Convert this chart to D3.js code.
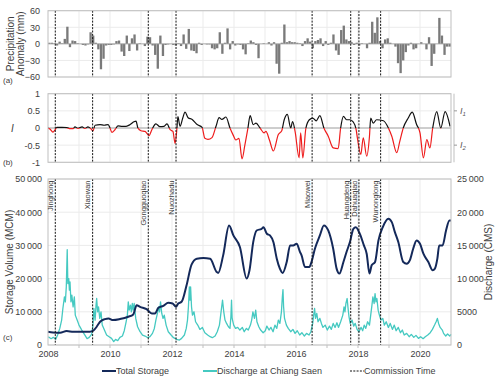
<!DOCTYPE html>
<html><head><meta charset="utf-8">
<script src="https://cdn.jsdelivr.net/npm/d3@7"></script>
<style>
body{margin:0;background:#fff}
svg{display:block}
text{font-family:"Liberation Sans",Arial,sans-serif;fill:#404040}
</style>
</head><body>
<svg id="chart" width="500" height="381"></svg>
<script>
// ---------------- DATA ----------------
const xTickYears = [2008, 2010, 2012, 2014, 2016, 2018, 2020];
const precipTicks = [-60, -30, 0, 30, 60];
const indexTicks = [-1, -0.5, 0, 0.5, 1];
const storageTicks = [0, 10000, 20000, 30000, 40000, 50000];
const dischargeTicks = [0, 5000, 10000, 15000, 20000, 25000];

// monthly precipitation anomaly (mm), Jan 2008 .. Dec 2020
const precipAnomaly = [
  2, 2, 1, -3, 4, 1, 9, 31, -6, 6, 5, 1,
  0, -2, -3, -1, 21, 15, 2, -10, -46, -27, -3, -2,
  -2, -1, 5, 6, -14, -22, 15, -13, 10, 17, -12, 1,
  0, -4, 13, 12, -3, -20, -45, 15, -22, -2, -1, 0,
  -2, -3, 1, -4, 17, -9, 27, -12, -13, -17, 2, -2,
  0, -1, -1, -8, -10, -8, 21, -18, 2, 28, -10, 5,
  -3, -1, -2, -10, -19, 1, 6, 3, -2, -26, 0, 1,
  0, 3, -3, 3, -36, -54, 2, 35, 3, 5, 3, 3,
  2, 1, -4, 5, 10, 4, -8, 5, 7, 10, -4, 5,
  -2, 2, 17, -12, -20, 25, 33, 8, 5, 3, -2, 2,
  -3, 1, 0, -8, 2, 40, 20, 48, 5, -8, 8, 10,
  2, 0, -5, -35, -53, -30, -15, -3, 2, -10, -8, 0,
  3, 0, -10, 12, -40, -18, 0, 47, 15, -20, -5, -5
];

const damNames = ["Jinghong", "Xiaowan", "Gongguoqiao", "Nuozhadu", "Miaowei", "Huangdeng", "Dahuaqiao", "Wunonglong"];
const damTimes = [2008.235, 2009.44, 2011.235, 2012.13, 2016.52, 2017.765, 2018.03, 2018.73];

// index I : [decimal year, value]
const indexSeries = [
  [2008.00,0],[2008.06,-0.03],[2008.16,-0.12],[2008.23,-0.05],[2008.29,0.02],[2008.45,0.02],[2008.61,0.01],
  [2008.71,-0.02],[2008.81,-0.02],[2008.87,0.03],[2008.97,-0.01],[2009.10,0.03],[2009.19,-0.01],[2009.29,0.03],
  [2009.39,-0.03],[2009.45,-0.08],[2009.52,0.08],[2009.68,0.1],[2009.81,0.08],[2009.94,0.1],[2010.00,0.0],
  [2010.06,-0.13],[2010.16,-0.05],[2010.26,0.06],[2010.39,0.05],[2010.52,0.05],[2010.65,0.1],[2010.77,0.18],
  [2010.84,0.2],[2010.90,0.0],[2011.00,-0.08],[2011.13,-0.1],[2011.26,-0.22],[2011.35,-0.05],[2011.48,0.12],
  [2011.61,0.04],[2011.74,0.05],[2011.84,0.12],[2011.94,-0.05],[2012.03,-0.1],[2012.10,-0.45],[2012.16,0.0],
  [2012.19,0.33],[2012.26,0.05],[2012.35,0.3],[2012.42,0.46],[2012.52,0.3],[2012.65,0.25],[2012.81,0.1],
  [2012.97,0.02],[2013.06,-0.3],[2013.16,-0.33],[2013.29,-0.28],[2013.42,0.05],[2013.52,0.3],[2013.61,0.25],
  [2013.74,0.32],[2013.87,0.0],[2013.97,-0.2],[2014.06,-0.35],[2014.16,-0.3],[2014.26,-0.9],[2014.35,-0.5],
  [2014.45,0.0],[2014.52,0.36],[2014.62,0.1],[2014.71,0.14],[2014.84,0],[2014.97,-0.14],[2015.03,-0.1],
  [2015.14,-0.34],[2015.27,-0.67],[2015.43,-0.19],[2015.54,-0.08],[2015.62,0.24],[2015.72,0.4],[2015.83,0],
  [2015.89,0.19],[2015.97,-0.1],[2016.10,-0.87],[2016.15,-0.14],[2016.22,-0.87],[2016.32,0],[2016.43,0.24],
  [2016.54,0.29],[2016.65,0.21],[2016.77,0.36],[2016.90,0],[2017.04,-0.24],[2017.20,-0.58],[2017.36,-0.6],
  [2017.44,0],[2017.53,0.34],[2017.63,0.24],[2017.74,0.24],[2017.85,0.17],[2017.94,-0.05],[2017.98,-0.29],
  [2018.09,-0.77],[2018.17,-0.29],[2018.28,-0.82],[2018.37,-0.24],[2018.41,0.29],[2018.49,0.14],[2018.60,0.24],
  [2018.82,0.21],[2018.98,0],[2019.09,-0.24],[2019.25,-0.72],[2019.35,-0.38],[2019.46,0],[2019.62,0.29],
  [2019.75,0.46],[2019.89,0.1],[2020.00,-0.14],[2020.11,-0.87],[2020.22,-0.34],[2020.32,-0.58],[2020.41,0],
  [2020.54,0.48],[2020.67,0],[2020.81,0.48],[2020.97,0.05]
];

// total storage (MCM): [decimal year, value]
const storageSeries = [
  [2008.00,4000],[2008.16,3800],[2008.39,3700],[2008.60,4200],[2008.82,4000],[2009.14,4000],[2009.35,4000],
  [2009.46,4300],[2009.57,5500],[2009.68,7000],[2009.84,7800],[2009.95,8000],[2010.10,7500],[2010.32,7800],
  [2010.59,8500],[2010.75,9200],[2010.86,12000],[2010.97,11500],[2011.18,10800],[2011.35,9500],[2011.45,9500],
  [2011.56,11200],[2011.72,11800],[2011.88,12700],[2012.02,12500],[2012.13,11500],[2012.20,12500],[2012.31,13000],
  [2012.47,18000],[2012.63,24200],[2012.80,26000],[2013.01,26200],[2013.23,26000],[2013.44,22000],[2013.49,21700],
  [2013.65,27000],[2013.84,36000],[2013.98,33000],[2014.19,29500],[2014.41,20000],[2014.50,22500],
  [2014.62,31000],[2014.73,34500],[2014.89,35000],[2014.95,35500],[2015.06,33500],[2015.16,33000],[2015.27,31000],
  [2015.38,26000],[2015.48,23000],[2015.57,21700],[2015.70,25000],[2015.81,30000],[2015.91,30000],[2016.02,30500],
  [2016.13,28000],[2016.18,27000],[2016.29,23500],[2016.43,23500],[2016.50,25000],[2016.61,29000],[2016.77,33000],
  [2016.90,36000],[2017.04,34500],[2017.20,29000],[2017.31,23000],[2017.40,21500],[2017.53,25000],[2017.63,28000],
  [2017.74,31000],[2017.85,35000],[2017.93,35500],[2018.06,33500],[2018.19,30000],[2018.28,27500],[2018.37,21500],
  [2018.44,24000],[2018.55,25000],[2018.66,31500],[2018.80,35500],[2018.98,38000],[2019.09,37000],[2019.19,34000],
  [2019.30,31000],[2019.46,25000],[2019.57,24500],[2019.67,25500],[2019.78,29000],[2019.89,31500],[2020.00,30500],
  [2020.11,27500],[2020.27,25000],[2020.41,22500],[2020.48,23000],[2020.56,26000],[2020.62,30000],[2020.73,30000],
  [2020.84,34500],[2020.95,37500],[2021.00,37500]
];

// discharge at Chiang Saen (CMS): [decimal year, value]
const dischargeSeries = [
  [2008.01,1250],[2008.10,950],[2008.17,1150],[2008.25,850],[2008.31,1500],[2008.38,2500],[2008.44,3750],
  [2008.48,5500],[2008.53,7250],[2008.56,6500],[2008.59,8750],[2008.62,14350],[2008.64,9250],[2008.67,10000],
  [2008.69,8250],[2008.71,9500],[2008.74,6500],[2008.77,7500],[2008.81,5750],[2008.85,7250],[2008.88,4500],
  [2008.94,3750],[2009.00,3000],[2009.09,2250],[2009.17,1650],[2009.26,950],[2009.33,1150],[2009.41,1650],
  [2009.45,3000],[2009.48,5500],[2009.52,3750],[2009.55,6000],[2009.57,7000],[2009.60,5000],[2009.63,5750],
  [2009.67,4000],[2009.71,5000],[2009.75,3000],[2009.82,2250],[2009.89,1500],[2009.97,1250],[2010.05,1000],
  [2010.12,500],[2010.18,850],[2010.25,650],[2010.32,1150],[2010.40,1350],[2010.46,2150],[2010.52,3500],
  [2010.56,4500],[2010.59,6500],[2010.62,5250],[2010.66,6000],[2010.69,5000],[2010.72,6250],[2010.75,5250],
  [2010.78,6250],[2010.83,4000],[2010.89,2750],[2010.97,2000],[2011.05,1500],[2011.13,1350],[2011.22,1100],
  [2011.29,1250],[2011.37,1750],[2011.43,2500],[2011.48,3750],[2011.53,4750],[2011.57,5750],[2011.60,5000],
  [2011.63,6500],[2011.67,4750],[2011.71,4000],[2011.75,4500],[2011.81,3000],[2011.88,2000],[2011.97,1500],
  [2012.05,1100],[2012.15,850],[2012.24,750],[2012.31,1000],[2012.40,1500],[2012.46,2500],[2012.50,3750],
  [2012.53,5750],[2012.56,8750],[2012.58,6750],[2012.60,8750],[2012.63,5750],[2012.66,4500],[2012.71,5000],
  [2012.76,3500],[2012.83,3000],[2012.90,2350],[2012.98,2650],[2013.06,1850],[2013.15,1500],[2013.23,1250],
  [2013.30,1100],[2013.39,1350],[2013.46,2000],[2013.53,3000],[2013.57,4500],[2013.61,6000],[2013.63,6750],
  [2013.67,5000],[2013.71,3750],[2013.76,3250],[2013.82,2750],[2013.87,2500],[2013.90,4250],[2013.92,6750],
  [2013.94,4000],[2013.99,3000],[2014.05,2500],[2014.12,2650],[2014.19,2250],[2014.27,2650],[2014.33,2000],
  [2014.40,2500],[2014.46,2250],[2014.53,3000],[2014.57,3750],[2014.61,5000],[2014.66,4000],[2014.70,5250],
  [2014.74,3500],[2014.80,2750],[2014.86,2250],[2014.94,1850],[2015.01,2150],[2015.06,2850],[2015.13,2250],
  [2015.19,2650],[2015.26,2000],[2015.32,3000],[2015.38,2500],[2015.43,3750],[2015.48,3250],[2015.53,5000],
  [2015.56,7250],[2015.58,8350],[2015.60,5750],[2015.63,4000],[2015.69,3000],[2015.75,2500],[2015.83,2000],
  [2015.90,2350],[2015.97,1750],[2016.04,2150],[2016.12,1500],[2016.19,1850],[2016.27,1350],[2016.34,1750],
  [2016.42,1500],[2016.48,2000],[2016.54,3250],[2016.57,4500],[2016.60,5500],[2016.63,4000],[2016.67,4750],
  [2016.71,3500],[2016.77,4000],[2016.82,3250],[2016.87,2650],[2016.94,3000],[2017.01,2250],[2017.08,2850],
  [2017.14,2350],[2017.20,3250],[2017.26,2650],[2017.32,3350],[2017.37,2650],[2017.44,3500],[2017.51,4500],
  [2017.55,5750],[2017.58,5000],[2017.61,6250],[2017.65,7000],[2017.68,5500],[2017.71,4250],[2017.75,3250],
  [2017.81,3750],[2017.86,2850],[2017.91,3250],[2017.97,2350],[2018.03,2000],[2018.10,2650],[2018.15,2150],
  [2018.20,3000],[2018.25,2500],[2018.31,3500],[2018.37,3000],[2018.41,4500],[2018.45,6000],[2018.48,7250],
  [2018.52,6250],[2018.55,7750],[2018.58,6500],[2018.61,7000],[2018.65,5250],[2018.69,4500],[2018.74,3750],
  [2018.80,4000],[2018.85,3000],[2018.91,3500],[2018.98,2650],[2019.04,3250],[2019.11,2350],[2019.17,3000],
  [2019.23,2150],[2019.30,2650],[2019.37,1850],[2019.43,2250],[2019.49,1500],[2019.57,1750],[2019.65,1250],
  [2019.72,1600],[2019.80,1150],[2019.87,1450],[2019.95,1000],[2020.02,1250],[2020.10,950],[2020.17,1250],
  [2020.25,1500],[2020.33,1850],[2020.40,2350],[2020.47,3000],[2020.52,3500],[2020.56,4000],[2020.60,3250],
  [2020.65,2650],[2020.72,2250],[2020.76,1750],[2020.83,1350],[2020.89,1650],[2020.96,1350],[2021.00,1600]
];

// ---------------- CHART ----------------
const svg = d3.select("#chart");
const L = 48, R = 451;
const x = d3.scaleLinear().domain([2008, 2021]).range([L, R]);
const gridYears = d3.range(2009, 2021);
const storageColor = "#14295a", dischargeColor = "#45c9c1", gridColor = "#ebebeb", frameColor = "#bfbfbf";
const fmtThousands = d => d >= 10000 ? d3.format(",")(d).replace(/,/g, "\u2009") : String(d);

const yA = d3.scaleLinear().domain([-60, 60]).range([77, 10.7]);
const yB = d3.scaleLinear().domain([-1, 1]).range([162.3, 93.7]);
const yC = d3.scaleLinear().domain([0, 50000]).range([345, 179]);
const yC2 = d3.scaleLinear().domain([0, 25000]).range([345, 179]);

function grid(y, ticks) {
  const [b, t] = y.range();
  const g = svg.append("g");
  g.selectAll("line.v").data(gridYears).join("line").attr("class", "v")
    .attr("x1", d => x(d)).attr("x2", d => x(d)).attr("y1", t).attr("y2", b)
    .attr("stroke", gridColor).attr("stroke-width", 1);
  g.selectAll("line.h").data(ticks).join("line").attr("class", "h")
    .attr("x1", L).attr("x2", R).attr("y1", d => y(d)).attr("y2", d => y(d))
    .attr("stroke", gridColor).attr("stroke-width", 1);
}
function frame(y) {
  const [b, t] = y.range();
  svg.append("rect").attr("x", L).attr("y", t).attr("width", R - L).attr("height", b - t)
    .attr("fill", "none").attr("stroke", frameColor).attr("stroke-width", 1);
}
function damLines(y) {
  const [b, t] = y.range();
  svg.append("g").selectAll("line").data(damTimes).join("line")
    .attr("x1", d => x(d)).attr("x2", d => x(d)).attr("y1", t).attr("y2", b)
    .attr("stroke", "#111").attr("stroke-width", 1).attr("stroke-dasharray", "2,1.3");
}
function leftAxis(y, ticks, fmt, pad) {
  const g = svg.append("g").attr("transform", `translate(${L},0)`)
    .call(d3.axisLeft(y).tickValues(ticks).tickSize(0).tickPadding(pad).tickFormat(fmt));
  g.select(".domain").remove();
  g.selectAll("text").attr("font-size", 9).style("fill", "#404040")
    .attr("font-family", "Liberation Sans, Arial, sans-serif");
  return g;
}

// ----- Panel (a)
grid(yA, precipTicks);
const monthW = x(2008 + 1 / 12) - x(2008);
svg.append("g").selectAll("rect").data(precipAnomaly).join("rect")
  .attr("x", (d, i) => x(2008 + i / 12) + monthW * 0.05)
  .attr("width", monthW * 0.9)
  .attr("y", d => yA(Math.max(0, d)))
  .attr("height", d => Math.abs(yA(d) - yA(0)))
  .attr("fill", "#7a7a7a");
svg.append("line").attr("x1", L).attr("x2", R).attr("y1", yA(0)).attr("y2", yA(0))
  .attr("stroke", "#a0a0a0").attr("stroke-width", 0.8);
damLines(yA);
frame(yA);
leftAxis(yA, precipTicks, d3.format("d"), 8);
svg.append("text").attr("transform", `translate(14,${yA(0)}) rotate(-90)`)
  .attr("text-anchor", "middle").attr("font-size", 10).text("Precipitation");
svg.append("text").attr("transform", `translate(24,${yA(0)}) rotate(-90)`)
  .attr("text-anchor", "middle").attr("font-size", 10).text("Anomaly (mm)");
svg.append("text").attr("x", 3).attr("y", 83).attr("font-size", 8).text("(a)");

// ----- Panel (b)
grid(yB, indexTicks);
const lineB = d3.line().x(d => x(d[0])).y(d => yB(d[1])).curve(d3.curveMonotoneX);
const defs = svg.append("defs");
defs.append("clipPath").attr("id", "pos").append("rect")
  .attr("x", L).attr("y", yB(1) - 5).attr("width", R - L).attr("height", yB(0) - yB(1) + 5);
defs.append("clipPath").attr("id", "neg").append("rect")
  .attr("x", L).attr("y", yB(0)).attr("width", R - L).attr("height", yB(-1) - yB(0) + 5);
svg.append("line").attr("x1", L).attr("x2", R).attr("y1", yB(0)).attr("y2", yB(0))
  .attr("stroke", "#a6a6a6").attr("stroke-width", 1);
svg.append("path").datum(indexSeries).attr("d", lineB).attr("fill", "none")
  .attr("stroke", "#111").attr("stroke-width", 1.2).attr("clip-path", "url(#pos)");
svg.append("path").datum(indexSeries).attr("d", lineB).attr("fill", "none")
  .attr("stroke", "#ee1c1c").attr("stroke-width", 1.2).attr("clip-path", "url(#neg)");
damLines(yB);
frame(yB);
leftAxis(yB, indexTicks, d => d === 0 ? "0" : String(d), 8);
// right I1 / I2 axis
svg.append("line").attr("x1", 454).attr("x2", 454).attr("y1", yB(1)).attr("y2", yB(-1))
  .attr("stroke", frameColor).attr("stroke-width", 1);
const iLabels = [[0.5, "1"], [-0.5, "2"]];
iLabels.forEach(([v, s]) => {
  svg.append("line").attr("x1", 454).attr("x2", 457).attr("y1", yB(v)).attr("y2", yB(v))
    .attr("stroke", "#999");
  const t = svg.append("text").attr("x", 460).attr("y", yB(v) + 3)
    .attr("font-size", 9).attr("font-style", "italic")
    .attr("font-family", "Liberation Serif, Times New Roman, serif").style("fill", "#595959").text("I");
  t.append("tspan").attr("font-size", 6).attr("dy", 2).text(s);
});
svg.append("text").attr("x", 11).attr("y", yB(0) + 3.5).attr("font-size", 10)
  .attr("font-style", "italic").attr("font-family", "Liberation Serif, Times New Roman, serif").text("I");
svg.append("text").attr("x", 3).attr("y", 165).attr("font-size", 8).text("(b)");

// ----- Panel (c)
grid(yC, storageTicks);
// minor year ticks at bottom
svg.append("g").selectAll("line").data(gridYears).join("line")
  .attr("x1", d => x(d)).attr("x2", d => x(d)).attr("y1", 345).attr("y2", 348)
  .attr("stroke", "#bfbfbf");
svg.append("path").datum(dischargeSeries)
  .attr("d", d3.line().x(d => x(d[0])).y(d => yC2(d[1])))
  .attr("fill", "none").attr("stroke", dischargeColor).attr("stroke-width", 1.3)
  .attr("stroke-linejoin", "round");
svg.append("path").datum(storageSeries)
  .attr("d", d3.line().x(d => x(d[0])).y(d => yC(d[1])).curve(d3.curveMonotoneX))
  .attr("fill", "none").attr("stroke", storageColor).attr("stroke-width", 2);
damLines(yC);
frame(yC);
leftAxis(yC, storageTicks, fmtThousands, 6);
const gr = svg.append("g").attr("transform", `translate(${R},0)`)
  .call(d3.axisRight(yC2).tickValues(dischargeTicks).tickSize(0).tickPadding(6).tickFormat(fmtThousands));
gr.select(".domain").remove();
gr.selectAll("text").attr("font-size", 9).style("fill", "#404040");
const gb = svg.append("g").attr("transform", `translate(0,345)`)
  .call(d3.axisBottom(x).tickValues(xTickYears).tickSize(0).tickPadding(6).tickFormat(d3.format("d")));
gb.select(".domain").remove();
gb.selectAll("text").attr("font-size", 9).style("fill", "#404040");

svg.append("text").attr("transform", `translate(13,${(yC(0) + yC(50000)) / 2}) rotate(-90)`)
  .attr("text-anchor", "middle").attr("font-size", 10).text("Storage Volume (MCM)");
svg.append("text").attr("transform", `translate(492,${(yC(0) + yC(50000)) / 2}) rotate(-90)`)
  .attr("text-anchor", "middle").attr("font-size", 10).text("Discharge (CMS)");
svg.append("text").attr("x", 3).attr("y", 340).attr("font-size", 8).text("(c)");

// dam labels
svg.append("g").selectAll("text").data(damNames).join("text")
  .attr("transform", (d, i) => `translate(${x(damTimes[i]) - 2.2},180.5) rotate(-90)`)
  .attr("text-anchor", "end").attr("font-size", 7.5).text(d => d);

// legend
const legY = 371;
const legend = [
  {x: 102, label: "Total Storage", color: storageColor, dash: null, w: 2},
  {x: 203, label: "Discharge at Chiang Saen", color: dischargeColor, dash: null, w: 2},
  {x: 350, label: "Commission Time", color: "#111", dash: "2,1.3", w: 1}
];
legend.forEach(l => {
  svg.append("line").attr("x1", l.x).attr("x2", l.x + 14).attr("y1", legY).attr("y2", legY)
    .attr("stroke", l.color).attr("stroke-width", l.w).attr("stroke-dasharray", l.dash);
  svg.append("text").attr("x", l.x + 14).attr("y", legY + 3).attr("font-size", 9).text(l.label);
});
</script>
</body></html>
